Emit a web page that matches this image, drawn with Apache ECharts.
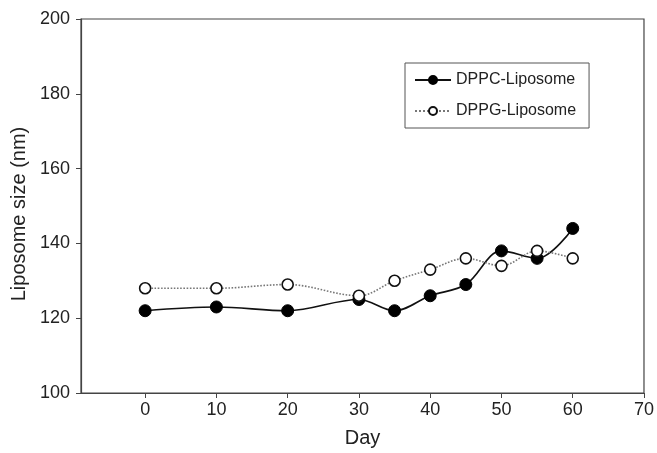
<!DOCTYPE html>
<html>
<head>
<meta charset="utf-8">
<script src="https://cdn.jsdelivr.net/npm/echarts@6/dist/echarts.min.js"></script>
<style>html,body{margin:0;padding:0;background:#fff}#c{width:657px;height:453px}</style>
</head>
<body>
<div id="c"></div>
<script>
const days = [0, 10, 20, 30, 35, 40, 45, 50, 55, 60];
const dppc = [122, 123, 122, 125, 122, 126, 129, 138, 136, 144];
const dppg = [128, 128, 129, 126, 130, 133, 136, 134, 138, 136];
const xTicks = [0, 10, 20, 30, 40, 50, 60, 70];
const yTicks = [100, 120, 140, 160, 180, 200];

const font = 'Liberation Sans, Arial, sans-serif';
const chart = echarts.init(document.getElementById('c'), null, {renderer: 'canvas'});
const pair = (xs, ys) => xs.map((x, i) => [x, ys[i]]);

chart.setOption({
  animation: false,
  backgroundColor: '#fff',
  grid: {left: 81, top: 19, right: 13, bottom: 55, show: true, borderColor: '#444', borderWidth: 1.2, backgroundColor: 'transparent'},
  legend: {
    orient: 'vertical', left: 405, top: 63,
    padding: [9, 13, 9, 9], itemGap: 15,
    itemWidth: 36, itemHeight: 10,
    borderColor: '#555', borderWidth: 1,
    textStyle: {fontFamily: font, fontSize: 16, color: '#222'},
    data: ['DPPC-Liposome', 'DPPG-Liposome']
  },
  xAxis: {
    type: 'value', min: -9, max: 70,
    name: 'Day', nameLocation: 'middle', nameGap: 35,
    nameTextStyle: {fontFamily: font, fontSize: 20, color: '#222'},
    axisLine: {show: true, onZero: false, lineStyle: {color: '#444', width: 1.2}},
    axisTick: {show: true, inside: false, length: 5, customValues: xTicks, lineStyle: {color: '#444'}},
    axisLabel: {customValues: xTicks, fontFamily: font, fontSize: 18, color: '#222', margin: 8},
    splitLine: {show: false}
  },
  yAxis: {
    type: 'value', min: 100, max: 200, interval: 20,
    name: 'Liposome size (nm)', nameLocation: 'middle', nameGap: 46, nameRotate: 90,
    nameTextStyle: {fontFamily: font, fontSize: 20, color: '#222', padding: [0, 16, 0, 0]},
    axisLine: {show: true, onZero: false, lineStyle: {color: '#444', width: 1.2}},
    axisTick: {show: true, inside: false, length: 5, lineStyle: {color: '#444'}},
    axisLabel: {fontFamily: font, fontSize: 18, color: '#222', margin: 11, showMinLabel: true, showMaxLabel: true},
    splitLine: {show: false}
  },
  series: [
    {
      name: 'DPPC-Liposome', type: 'line', smooth: 0.35,
      data: pair(days, dppc),
      symbol: 'circle', symbolSize: 12,
      itemStyle: {color: '#000', borderColor: '#000', borderWidth: 1},
      lineStyle: {color: '#111', width: 1.6, type: 'solid'}
    },
    {
      name: 'DPPG-Liposome', type: 'line', smooth: 0.35,
      data: pair(days, dppg),
      symbol: 'circle', symbolSize: 11,
      itemStyle: {color: '#fff', borderColor: '#111', borderWidth: 1.6},
      lineStyle: {color: '#777', width: 1.6, type: 'dotted'}
    }
  ]
});
</script>
</body>
</html>
